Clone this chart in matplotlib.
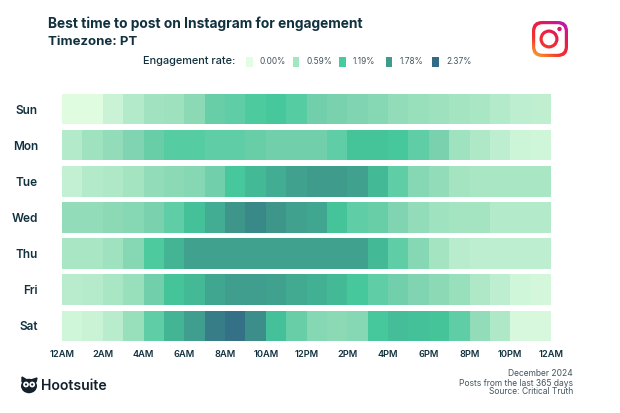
"""Best time to post on Instagram: engagement heatmap by weekday and hour."""

import numpy as np
import matplotlib
matplotlib.use("Agg")
import matplotlib.pyplot as plt
from matplotlib.colors import LinearSegmentedColormap
from matplotlib.patches import Circle, Ellipse, FancyBboxPatch

days = ["Sun", "Mon", "Tue", "Wed", "Thu", "Fri", "Sat"]
hour_labels = ["12AM", "2AM", "4AM", "6AM", "8AM", "10AM", "12PM", "2PM", "4PM", "6PM", "8PM", "10PM", "12AM"]
legend_values = [0.00, 0.59, 1.19, 1.78, 2.37]
legend_colors = ["#e2fde2", "#9fe8c0", "#46cc9c", "#3f9c8c", "#336b85"]

sun = [0.03, 0.03, 0.20, 0.40, 0.58, 0.62, 0.75, 1.00, 1.05, 1.15, 1.20, 1.10, 0.95, 0.90, 0.85, 0.80, 0.70, 0.65, 0.62, 0.55, 0.50, 0.40, 0.30, 0.28]
mon = [0.40, 0.60, 0.70, 0.85, 1.00, 1.10, 1.10, 1.05, 1.05, 1.00, 0.95, 0.95, 0.95, 1.05, 1.25, 1.25, 1.20, 1.05, 0.90, 0.60, 0.45, 0.30, 0.18, 0.15]
tue = [0.25, 0.40, 0.45, 0.55, 0.70, 0.75, 0.80, 0.95, 1.20, 1.40, 1.55, 1.70, 1.78, 1.78, 1.70, 1.40, 1.05, 0.80, 0.70, 0.55, 0.50, 0.50, 0.50, 0.50]
wed = [0.70, 0.70, 0.75, 0.80, 0.90, 1.05, 1.30, 1.55, 1.85, 2.00, 1.85, 1.70, 1.65, 1.25, 1.05, 1.00, 0.85, 0.70, 0.60, 0.55, 0.55, 0.40, 0.40, 0.40]
thu = [0.50, 0.50, 0.60, 0.80, 1.15, 1.45, 1.70, 1.70, 1.70, 1.70, 1.70, 1.70, 1.70, 1.70, 1.70, 1.40, 1.05, 0.80, 0.55, 0.35, 0.30, 0.30, 0.30, 0.30]
fri = [0.35, 0.38, 0.50, 0.65, 0.95, 1.25, 1.40, 1.65, 1.75, 1.75, 1.70, 1.60, 1.50, 1.40, 1.20, 1.05, 0.95, 0.85, 0.75, 0.65, 0.45, 0.30, 0.15, 0.12]
sat = [0.15, 0.20, 0.35, 0.65, 1.05, 1.45, 1.75, 2.15, 2.30, 1.95, 1.30, 1.00, 0.80, 0.75, 0.80, 1.20, 1.35, 1.30, 1.25, 1.05, 0.70, 0.45, 0.10, 0.10]
rates = [sun, mon, tue, wed, thu, fri, sat]

plt.rcParams["font.family"] = ["Inter", "DejaVu Sans"]
INK = "#12313f"
GREY = "#44555e"

W, H = 620, 413
fig = plt.figure(figsize=(W / 100, H / 100), dpi=100, facecolor="white")

# The cells run a little greyer than the legend swatches between the stops
cell_stops = [
    (0.00, "#e2fde2"), (0.30, "#bdeecf"), (0.59, "#a0e2bf"), (0.90, "#79d1ae"),
    (1.19, "#46c99c"), (1.78, "#3f9c8c"), (2.37, "#336b85"),
]
cmap = LinearSegmentedColormap.from_list("engagement", [(v / 2.37, c) for v, c in cell_stops])

# Heatmap, one mesh per day so the white gaps stay between the rows
ax = fig.add_axes([62 / W, 1 - 343.8 / H, 489 / W, 252.7 / H])
for i, row in enumerate(rates):
    ax.pcolormesh(
        np.arange(25), [i - 0.42, i + 0.42], np.array([row]),
        cmap=cmap, vmin=legend_values[0], vmax=legend_values[-1], linewidth=0,
    )
ax.set_yticks(range(len(days)), days, fontsize=8.5, fontweight="semibold", color=INK)
ax.set_xticks(np.arange(0, 25, 2), hour_labels, fontsize=6.7, fontweight="semibold", color=INK)
ax.set_xlim(0, 24)
ax.set_ylim(6.5, -0.5)
ax.tick_params(length=0)
ax.tick_params(axis="x", pad=4.3)
ax.tick_params(axis="y", pad=17.3)
for side in ax.spines.values():
    side.set_visible(False)

# Overlay in pixel coordinates for header, legend, footer and logos
ov = fig.add_axes([0, 0, 1, 1], facecolor="none")
ov.axis("off")

ov.text(48, 23.5, "Best time to post on Instagram for engagement", fontsize=9.9, fontweight="bold", color=INK, va="center")
ov.text(48, 41.7, "Timezone: PT", fontsize=9.5, fontweight="bold", color=INK, va="center")

ov.text(143, 61.3, "Engagement rate:", fontsize=7.9, fontweight="medium", color=INK, va="center")
for k, (v, c) in enumerate(zip(legend_values, legend_colors)):
    x0 = 246 + 46.5 * k
    ov.add_patch(plt.Rectangle((x0, 57), 6.8, 9.5, facecolor=c, edgecolor="none"))
    ov.text(x0 + 14, 61.5, f"{v:.2f}%", fontsize=6, color=GREY, va="center")

# Instagram logo: gradient clipped to a rounded square, a circle and a dot, white cut-outs on top
grad = np.linspace(0, 1, 64)[:, None] * 0.6 + np.linspace(1, 0, 64)[None, :] * 0.4
logo_cmap = LinearSegmentedColormap.from_list("ig", ["#b516c8", "#e8194f", "#f0342f", "#fcb02c"])
shapes = [
    FancyBboxPatch((532, 21), 36, 36, boxstyle="round,pad=0,rounding_size=10", facecolor="none", edgecolor="none"),
    Circle((549, 39), 9.5, facecolor="none", edgecolor="none"),
    Circle((559.5, 29), 2.2, facecolor="none", edgecolor="none"),
]
cutouts = [
    FancyBboxPatch((535.2, 24.2), 29.6, 29.6, boxstyle="round,pad=0,rounding_size=7.5", facecolor="white", edgecolor="none", zorder=4),
    Circle((549, 39), 6.3, facecolor="white", edgecolor="none", zorder=6),
]
for z, shape in zip((3, 5, 7), shapes):
    ov.add_patch(shape)
    img = ov.imshow(grad, cmap=logo_cmap, extent=(532, 568, 57, 21), aspect="auto", zorder=z)
    img.set_clip_path(shape)
for cut in cutouts:
    ov.add_patch(cut)

# Hootsuite owl and wordmark
OWL = "#12212b"
ov.add_patch(Ellipse((29, 386), 16, 14.5, facecolor=OWL, edgecolor="none"))
ov.fill([22, 22, 27], [382, 377, 380], color=OWL)
ov.fill([36, 37, 31], [382, 378, 380], color=OWL)
for cx in (26, 32.2):
    ov.add_patch(Circle((cx, 384.5), 2.9, facecolor="white", edgecolor="none"))
    ov.add_patch(Circle((cx, 384.5), 1.1, facecolor=OWL, edgecolor="none"))
ov.text(41.5, 386, "Hootsuite", fontsize=10.1, fontweight="semibold", color=OWL, va="center")

ov.text(573, 373.7, "December 2024", fontsize=6.1, color=GREY, ha="right", va="center")
ov.text(573, 383, "Posts from the last 365 days", fontsize=6.1, color=GREY, ha="right", va="center")
ov.text(573, 391.8, "Source: Critical Truth", fontsize=6.1, color=GREY, ha="right", va="center")

ov.set_xlim(0, W)
ov.set_ylim(H, 0)

fig.savefig("out.png", dpi=100)
